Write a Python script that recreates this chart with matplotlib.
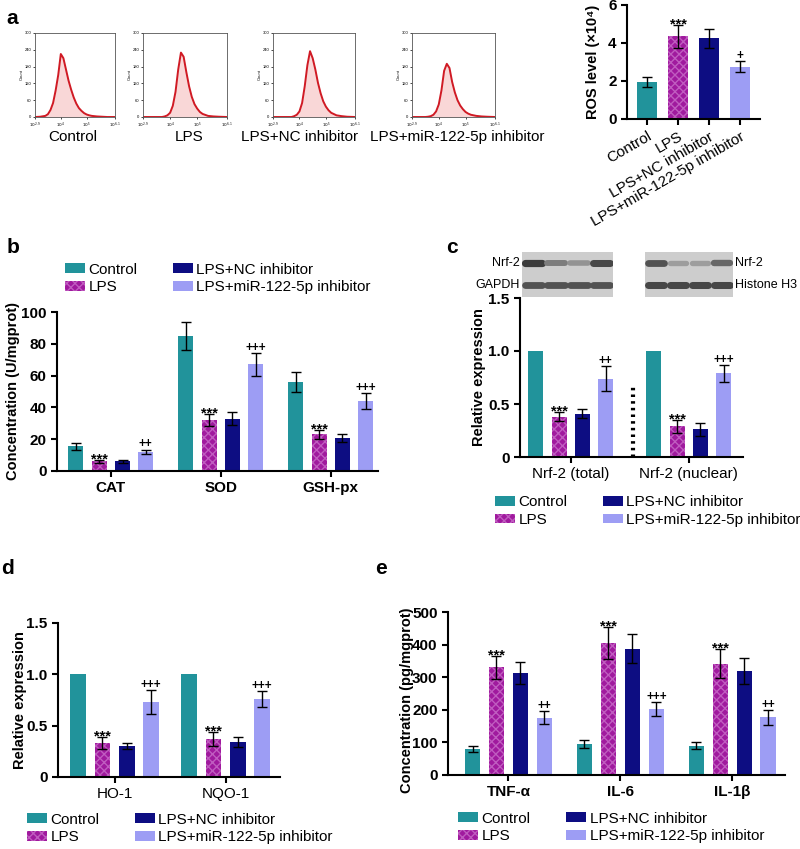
import matplotlib
matplotlib.use('Agg')
import matplotlib.pyplot as plt
from matplotlib.patches import Patch
import numpy as np

plt.rcParams['font.family'] = ['Liberation Sans', 'DejaVu Sans']
plt.rcParams['hatch.linewidth'] = 1.0

W, H = 800, 849

groups = ['Control', 'LPS', 'LPS+NC inhibitor', 'LPS+miR-122-5p inhibitor']
colors = ['#21939b', '#a01a9e', '#0d0d82', '#9d9df4']
hatch_col = '#c05cc0'

# a: flow cytometry histograms (log10 fluorescence vs count)
flow_x = [3.0, 3.2, 3.4, 3.5, 3.6, 3.7, 3.8, 3.9, 4.0, 4.1, 4.2, 4.3, 4.4,
          4.5, 4.6, 4.7, 4.8, 4.9, 5.0, 5.1, 5.2, 5.4, 5.6, 5.8, 6.1]
flow_ctrl = [0, 1, 4, 10, 25, 50, 95, 150, 225, 210, 170, 130, 98, 70, 48,
             32, 22, 14, 9, 6, 4, 2, 1, 0, 0]
flow_lps = [0, 0, 0, 0, 0, 0, 2, 6, 15, 40, 90, 170, 230, 215, 160, 110, 72,
            46, 30, 18, 11, 4, 2, 1, 0]
flow_nc = [0, 0, 0, 0, 0, 0, 3, 8, 20, 50, 110, 185, 235, 210, 170, 122, 85,
           56, 37, 24, 15, 6, 3, 1, 0]
flow_mir = [0, 0, 0, 0, 1, 3, 8, 20, 45, 95, 165, 190, 175, 125, 88, 60, 41,
            28, 18, 12, 8, 4, 2, 1, 0]

ros_mean = [1.95, 4.35, 4.25, 2.75]
ros_err = [0.25, 0.6, 0.5, 0.3]
ros_marks = ['', '***', '', '+']

# b: enzymes
b_cats = ['CAT', 'SOD', 'GSH-px']
b_mean = [[15.5, 85, 56], [6, 32, 23], [6, 33, 21], [12, 67, 44]]
b_err = [[2, 9, 6], [1, 4, 3], [0.7, 4, 2.5], [1.5, 7, 5]]
b_marks = [['', '', ''], ['***', '***', '***'], ['', '', ''], ['++', '+++', '+++']]

# c: Nrf-2
c_cats = ['Nrf-2 (total)', 'Nrf-2 (nuclear)']
c_mean = [[1.0, 1.0], [0.38, 0.29], [0.41, 0.26], [0.74, 0.79]]
c_err = [[0, 0], [0.04, 0.06], [0.04, 0.06], [0.12, 0.08]]
c_marks = [['', ''], ['***', '***'], ['', ''], ['++', '+++']]
blot_total = [0.9, 0.6, 0.5, 0.85]
blot_gapdh = [0.8, 0.8, 0.8, 0.8]
blot_nuclear = [0.8, 0.45, 0.45, 0.7]
blot_histone = [0.85, 0.85, 0.85, 0.85]

# d: HO-1 / NQO-1
d_cats = ['HO-1', 'NQO-1']
d_mean = [[1.0, 1.0], [0.33, 0.37], [0.30, 0.34], [0.73, 0.76]]
d_err = [[0, 0], [0.06, 0.07], [0.03, 0.05], [0.12, 0.08]]
d_marks = [['', ''], ['***', '***'], ['', ''], ['+++', '+++']]

# e: cytokines
e_cats = ['TNF-α', 'IL-6', 'IL-1β']
e_mean = [[80, 95, 90], [330, 405, 342], [313, 388, 320], [175, 202, 177]]
e_err = [[10, 12, 10], [35, 48, 45], [35, 43, 40], [20, 22, 23]]
e_marks = [['', '', ''], ['***', '***', '***'], ['', '', ''], ['++', '+++', '++']]

fig = plt.figure(figsize=(W / 100, H / 100), dpi=100)


def px_axes(l, t, r, b):
    return fig.add_axes([l / W, 1 - b / H, (r - l) / W, (b - t) / H])


def style_axes(ax):
    for s in ['top', 'right']:
        ax.spines[s].set_visible(False)
    for s in ['left', 'bottom']:
        ax.spines[s].set_linewidth(1.5)
    ax.tick_params(width=1.5, length=4, labelsize=11)
    for t in ax.get_yticklabels():
        t.set_fontweight('bold')


def mark(ax, x, y, s):
    if not s:
        return
    if '*' in s:
        ax.annotate(s, (x, y), xytext=(0, -2.5), textcoords='offset points',
                    ha='center', va='baseline', fontsize=10.5, fontweight='bold')
    else:
        ax.annotate(s, (x, y), xytext=(0, 1.5), textcoords='offset points',
                    ha='center', va='baseline', fontsize=8.5, fontweight='bold')


def bars(ax, means, errs, marks, pitch, width):
    n = len(means[0])
    x = np.arange(n)
    for i in range(4):
        xs = x + (i - 1.5) * pitch
        kw = dict(color=colors[i], width=width, lw=0)
        if i == 1:
            kw.update(edgecolor=hatch_col, hatch='xxxx')
        ax.bar(xs, means[i], **kw)
        ex = [xx for xx, e in zip(xs, errs[i]) if e > 0]
        ey = [m for m, e in zip(means[i], errs[i]) if e > 0]
        ee = [e for e in errs[i] if e > 0]
        if ee:
            ax.errorbar(ex, ey, yerr=ee, fmt='none', ecolor='black',
                        elinewidth=1, capsize=3.5, capthick=1)
        for xx, m, e, s in zip(xs, means[i], errs[i], marks[i]):
            mark(ax, xx, m + e, s)
    ax.set_xticks(x)


def legend(ax, x_left, y_mid):
    handles = []
    for i in range(4):
        if i == 1:
            handles.append(Patch(facecolor=colors[i], edgecolor=hatch_col,
                                 hatch='xxxx', lw=0))
        else:
            handles.append(Patch(facecolor=colors[i], lw=0))
    ax.legend(handles, groups, ncol=2, loc='center left',
              bbox_to_anchor=(x_left / W, 1 - y_mid / H),
              bbox_transform=fig.transFigure, frameon=False, fontsize=11,
              borderpad=0, borderaxespad=0, handlelength=1.3,
              handleheight=0.6, handletextpad=0.25, columnspacing=2.3,
              labelspacing=0.25)


def zero_fmt(v, pos):
    return '0' if v == 0 else ('%g' % v if v >= 2 else '%.1f' % v)


# ---- a: histograms
flows = [flow_ctrl, flow_lps, flow_nc, flow_mir]
hist_boxes = [(35, 115), (143, 227), (273, 355), (412, 495)]
label_x = [73, 189, 300, 457]
for k in range(4):
    l, r = hist_boxes[k]
    ax = px_axes(l, 33, r, 117)
    ax.fill_between(flow_x, flows[k], color='#f7c6c6', alpha=0.7, lw=0)
    ax.plot(flow_x, flows[k], color='#d01a24', lw=1.4)
    ax.set_xlim(3.0, 6.1)
    ax.set_ylim(0, 300)
    ax.set_xticks([3.0, 4, 5, 6.1])
    ax.set_xticklabels(['$10^{2.9}$', '$10^4$', '$10^5$', '$10^{6.1}$'])
    ax.set_yticks([0, 60, 120, 180, 240, 300])
    ax.tick_params(labelsize=3, length=1.5, width=0.5, pad=1)
    ax.set_ylabel('Count', fontsize=3, labelpad=1)
    for s in ax.spines.values():
        s.set_linewidth(0.6)
        s.set_color('#555555')
    fig.text(label_x[k] / W, 1 - 137 / H, groups[k], ha='center', va='center',
             fontsize=11)
fig.text(12 / W, 1 - 19 / H, 'a', fontsize=15, fontweight='bold',
         ha='center', va='center')

# ---- a: ROS bar chart
ax = px_axes(627, 5, 760, 119)
xr = np.arange(4)
for i in range(4):
    kw = dict(color=colors[i], width=0.65, lw=0)
    if i == 1:
        kw.update(edgecolor=hatch_col, hatch='xxxx')
    ax.bar(xr[i], ros_mean[i], **kw)
ax.errorbar(xr, ros_mean, yerr=ros_err, fmt='none', ecolor='black',
            elinewidth=1, capsize=3.5, capthick=1)
for i in range(4):
    mark(ax, xr[i], ros_mean[i] + ros_err[i], ros_marks[i])
ax.set_xlim(-0.65, 3.65)
ax.set_ylim(0, 6)
ax.set_yticks([0, 2, 4, 6])
ax.set_xticks(xr)
ax.set_xticklabels(groups, rotation=30, ha='right', rotation_mode='anchor',
                   fontsize=10)
style_axes(ax)
ax.set_ylabel('ROS level (×10⁴)', fontsize=10.5, fontweight='bold')
ax.yaxis.set_label_coords(-0.2, 0.5)

# ---- b
ax = px_axes(57, 312, 378, 471)
bars(ax, b_mean, b_err, b_marks, 0.212, 0.136)
ax.set_xlim(-0.49, 2.43)
ax.set_ylim(0, 100)
ax.set_yticks([0, 20, 40, 60, 80, 100])
ax.set_xticklabels(b_cats, fontsize=10.5, fontweight='bold')
style_axes(ax)
ax.set_ylabel('Concentration (U/mgprot)', fontsize=10.5, fontweight='bold')
ax.yaxis.set_label_coords(-0.115, 0.5)
legend(ax, 65, 278.5)
fig.text(13 / W, 1 - 247 / H, 'b', fontsize=15, fontweight='bold',
         ha='center', va='center')

# ---- c: blots
blot_sets = [((522, 613), blot_total, blot_gapdh),
             ((645, 733), blot_nuclear, blot_histone)]
for (l, r), top_row, bot_row in blot_sets:
    bx = px_axes(l, 252, r, 297)
    bx.set_facecolor('#cdcdcd')
    for lane in range(4):
        for yrow, val in [(0.76, top_row[lane]), (0.27, bot_row[lane])]:
            g = 1 - 0.85 * val
            bx.plot([lane - 0.38, lane + 0.38], [yrow, yrow],
                    color=(g, g, g), lw=2.5 + 3 * val, solid_capstyle='round')
    bx.set_xlim(-0.5, 3.5)
    bx.set_ylim(0, 1)
    bx.set_xticks([])
    bx.set_yticks([])
    for s in bx.spines.values():
        s.set_visible(False)
fig.text(520 / W, 1 - 263 / H, 'Nrf-2', ha='right', va='center', fontsize=9)
fig.text(520 / W, 1 - 285 / H, 'GAPDH', ha='right', va='center', fontsize=9)
fig.text(735 / W, 1 - 263 / H, 'Nrf-2', ha='left', va='center', fontsize=9)
fig.text(735 / W, 1 - 285 / H, 'Histone H3', ha='left', va='center', fontsize=9)

ax = px_axes(520, 298, 743, 457)
bars(ax, c_mean, c_err, c_marks, 0.198, 0.127)
ax.plot([0.525, 0.525], [0, 0.66], color='black', lw=3,
        linestyle=(0, (0.6, 1.0)))
ax.set_xlim(-0.43, 1.46)
ax.set_ylim(0, 1.5)
ax.set_yticks([0, 0.5, 1.0, 1.5])
ax.yaxis.set_major_formatter(plt.FuncFormatter(zero_fmt))
ax.set_xticklabels(c_cats, fontsize=9.5)
style_axes(ax)
ax.set_ylabel('Relative expression', fontsize=10.5, fontweight='bold')
ax.yaxis.set_label_coords(-0.152, 0.5)
legend(ax, 495, 511)
fig.text(452 / W, 1 - 247 / H, 'c', fontsize=15, fontweight='bold',
         ha='center', va='center')

# ---- d
ax = px_axes(58, 623, 280, 777)
bars(ax, d_mean, d_err, d_marks, 0.219, 0.141)
ax.set_xlim(-0.51, 1.49)
ax.set_ylim(0, 1.5)
ax.set_yticks([0, 0.5, 1.0, 1.5])
ax.yaxis.set_major_formatter(plt.FuncFormatter(zero_fmt))
ax.set_xticklabels(d_cats, fontsize=9.5)
style_axes(ax)
ax.set_ylabel('Relative expression', fontsize=10.5, fontweight='bold')
ax.yaxis.set_label_coords(-0.14, 0.5)
legend(ax, 27, 828.5)
fig.text(7 / W, 1 - 569 / H, 'd', fontsize=15, fontweight='bold',
         ha='center', va='center')

# ---- e
ax = px_axes(448, 612, 785, 775)
bars(ax, e_mean, e_err, e_marks, 0.214, 0.14)
ax.set_xlim(-0.54, 2.47)
ax.set_ylim(0, 500)
ax.set_yticks([0, 100, 200, 300, 400, 500])
ax.set_xticklabels(e_cats, fontsize=10.5, fontweight='bold')
style_axes(ax)
ax.set_ylabel('Concentration (pg/mgprot)', fontsize=10.5, fontweight='bold')
ax.yaxis.set_label_coords(-0.10, 0.46)
legend(ax, 458, 827.5)
fig.text(381 / W, 1 - 569 / H, 'e', fontsize=15, fontweight='bold',
         ha='center', va='center')

fig.savefig('out.png', dpi=100)
